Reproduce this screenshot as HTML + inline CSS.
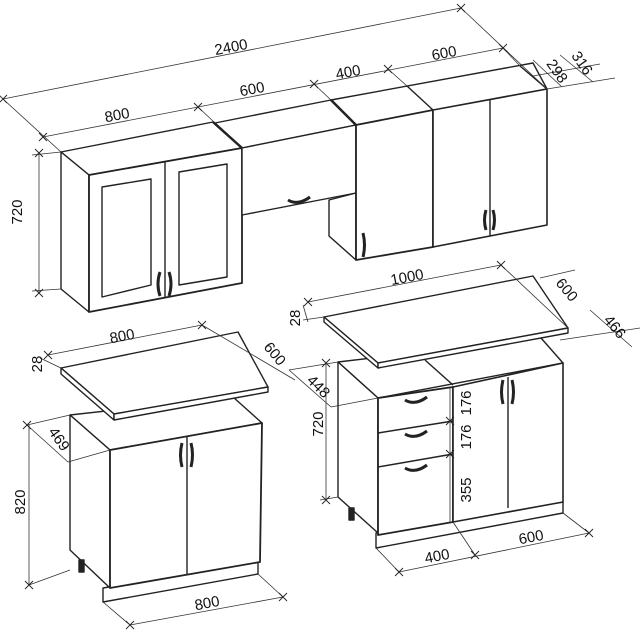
<!DOCTYPE html>
<html><head><meta charset="utf-8"><style>
html,body{margin:0;padding:0;background:#fff;width:643px;height:639px;overflow:hidden}
svg{display:block}
text{font-family:"Liberation Sans",sans-serif;font-size:15px;fill:#111}
</style></head><body>
<svg width="643" height="639" viewBox="0 0 643 639" xmlns="http://www.w3.org/2000/svg">
<defs>
<g id="x"><path d="M-4 -4L4 4M-4 4L4 -4" stroke="#222" stroke-width="0.9"/></g>
</defs>
<g fill="#fff" stroke="#222" stroke-width="1.4" stroke-linejoin="round">
<!-- upper left cabinet -->
<polygon points="61,152 213,122 242,148 89,175"/>
<polygon points="61,152 89,175 89,312 61,289"/>
<polygon points="89,175 242,148 242,283 89,312" stroke-width="1.8"/>
<line x1="165" y1="161" x2="165" y2="297"/>
<polygon points="102,187 151,179 151,285 102,297"/>
<polygon points="179,172 227,164 227,277 179,285"/>
<path d="M160 272 q-4 12 0 24 M169 272 q4 12 0 24" stroke-width="3" fill="none"/>
<!-- hood -->
<polygon points="215,123 331,100 356,125 242,148"/>
<polygon points="242,148 356,125 356,193 242,215"/>
<polygon points="329,200 356,193 356,260 329,236"/>
<path d="M288 200 q10 6 22 -3" stroke-width="3" fill="none"/>
<!-- 400 + 600 cabinets -->
<polygon points="331,100 533,63 547,89 356,125"/>
<polygon points="356,125 433,110 433,247 356,260" stroke-width="1.8"/>
<polygon points="433,110 547,89 547,225 433,247" stroke-width="1.6"/>
<line x1="490" y1="99" x2="490" y2="236"/>
<line x1="407" y1="86" x2="433" y2="110"/>
<line x1="520" y1="66" x2="547" y2="89"/>
<line x1="213" y1="122" x2="242" y2="148" stroke-width="2.5"/>
<line x1="331" y1="100" x2="356" y2="125" stroke-width="2.5"/>
<path d="M363 233 q3 12 0 24" stroke-width="3" fill="none"/>
<path d="M486 210 q-3 10 0 20 M493 210 q3 10 0 20" stroke-width="3" fill="none"/>

<!-- lower left cabinet -->
<polygon points="70,415 233,397 262,423 110,450"/>
<polygon points="70,415 110,450 110,588 70,550"/>
<polygon points="103,588 258,562 258,574 103,602"/>
<polygon points="110,450 262,423 260,562 110,588" stroke-width="1.8"/>
<line x1="187" y1="437" x2="187" y2="574"/>
<path d="M182 443 q-3 12 0 24 M191 443 q3 12 0 24" stroke-width="3" fill="none"/>
<rect x="79" y="560" width="5" height="12" fill="#222"/>
<polygon points="61,368 238,332 268,387 114,414"/>
<polygon points="61,368 114,414 114,420 61,374"/>
<polygon points="114,414 268,387 268,392 114,420"/>

<!-- lower right cabinet -->
<polygon points="338,362 541,338 563,363 378,398"/>
<polygon points="338,362 378,398 378,533 338,497"/>
<polygon points="376,533 563,502 563,513 376,548"/>
<polygon points="378,398 453,387 453,522 378,535" stroke-width="1.8"/>
<polygon points="453,387 563,363 563,502 453,522" stroke-width="1.6"/>
<line x1="508" y1="377" x2="508" y2="508"/>
<line x1="378" y1="433" x2="453" y2="421"/>
<line x1="378" y1="467" x2="453" y2="454"/>
<path d="M405 400 q10 6 22 -3 M405 434 q10 6 22 -3 M405 468 q10 6 22 -3" stroke-width="3" fill="none"/>
<path d="M503 380 q-3 12 0 24 M512 380 q3 12 0 24" stroke-width="3" fill="none"/>
<rect x="349" y="508" width="5" height="12" fill="#222"/>
<line x1="425" y1="360" x2="453" y2="385"/>
<polygon points="324,317 533,276 568,328 378,363"/>
<polygon points="324,317 378,363 378,368 324,322"/>
<polygon points="378,363 568,328 568,333 378,368"/>
</g>

<!-- dimension lines -->
<g stroke="#333" stroke-width="0.8" fill="none">
<path d="M3 99L461 8M3 99L61 152M461 8L547 89"/>
<path d="M43 137L503 48M198 107L215 123M314 84L331 100M388 69L407 86M503 48L520 66"/>
<path d="M533 60L562 87M560 55L593 82M533 76L600 64M547 89L615 78"/>
<path d="M39 153L39 293M32 155L61 152M32 291L61 289"/>
<path d="M308 302L501 265M501 265L568 328M540 278L575 270M590 310L632 347M560 340L640 328"/>
<path d="M303 305L308 322M303 320L324 317"/>
<path d="M48 355L202 325M202 325L295 380M40 358L61 368"/>
<path d="M27 425L68 462M27 425L70 415M68 462L110 450"/>
<path d="M29 425L29 585M29 585L70 570"/>
<path d="M130 625L283 597M103 602L130 625M258 574L283 597"/>
<path d="M326 363L326 500M320 500L338 497M289 370L331 407M289 370L338 362M331 407L378 398"/>
<path d="M450 387L450 522"/>
<path d="M399 572L589 533M376 548L399 572M453 522L475 555M563 513L589 533"/>
</g>
<g>
<use href="#x" x="3" y="99"/><use href="#x" x="461" y="8"/><use href="#x" x="43" y="137"/><use href="#x" x="198" y="107"/><use href="#x" x="314" y="84"/><use href="#x" x="388" y="69"/><use href="#x" x="503" y="48"/>
<use href="#x" x="39" y="153"/><use href="#x" x="39" y="293"/><use href="#x" x="308" y="302"/><use href="#x" x="501" y="265"/>
<use href="#x" x="48" y="355"/><use href="#x" x="202" y="325"/><use href="#x" x="27" y="425"/><use href="#x" x="29" y="585"/>
<use href="#x" x="130" y="625"/><use href="#x" x="283" y="597"/><use href="#x" x="326" y="363"/><use href="#x" x="326" y="500"/>
<use href="#x" x="450" y="421"/><use href="#x" x="450" y="454"/><use href="#x" x="399" y="572"/><use href="#x" x="475" y="555"/><use href="#x" x="589" y="533"/>
</g>

<g text-anchor="middle">
<text transform="translate(232,52) rotate(-11)">2400</text>
<text transform="translate(118,120) rotate(-11)">800</text>
<text transform="translate(253,94) rotate(-11)">600</text>
<text transform="translate(349,77) rotate(-11)">400</text>
<text transform="translate(445,58) rotate(-11)">600</text>
<text transform="translate(553,74) rotate(55)">298</text>
<text transform="translate(578,66) rotate(55)">316</text>
<text transform="translate(22,212) rotate(-90)">720</text>
<text transform="translate(408,282) rotate(-11)">1000</text>
<text transform="translate(563,293) rotate(50)">600</text>
<text transform="translate(300,318) rotate(-90)">28</text>
<text transform="translate(611,330) rotate(50)">466</text>
<text transform="translate(123,341) rotate(-11)">800</text>
<text transform="translate(271,357) rotate(50)">600</text>
<text transform="translate(42,364) rotate(-90)">28</text>
<text transform="translate(55,442) rotate(55)">469</text>
<text transform="translate(25,502) rotate(-90)">820</text>
<text transform="translate(208,608) rotate(-11)">800</text>
<text transform="translate(323,424) rotate(-90)">720</text>
<text transform="translate(315,390) rotate(45)">448</text>
<text transform="translate(471,403) rotate(-90)">176</text>
<text transform="translate(471,437) rotate(-90)">176</text>
<text transform="translate(471,490) rotate(-90)">355</text>
<text transform="translate(438,561) rotate(-11)">400</text>
<text transform="translate(532,542) rotate(-11)">600</text>
</g>
</svg>
</body></html>
